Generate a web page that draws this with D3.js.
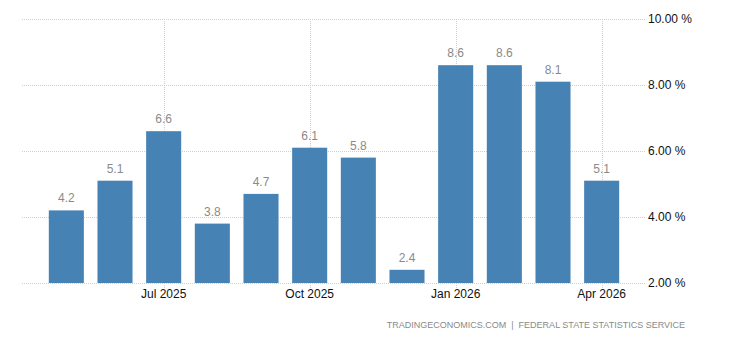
<!DOCTYPE html>
<html>
<head>
<meta charset="utf-8">
<script src="https://cdn.jsdelivr.net/npm/d3@7"></script>
<style>
  body { margin: 0; background: #fff; }
  svg text { font-family: Arial, "Liberation Sans", sans-serif; }
</style>
</head>
<body>
<svg class="chart" width="730" height="340"></svg>
<script>
const months = ["May 2025", "Jun 2025", "Jul 2025", "Aug 2025", "Sep 2025", "Oct 2025",
  "Nov 2025", "Dec 2025", "Jan 2026", "Feb 2026", "Mar 2026", "Apr 2026"];
const values = [4.2, 5.1, 6.6, 3.8, 4.7, 6.1, 5.8, 2.4, 8.6, 8.6, 8.1, 5.1];
const tickMonths = ["Jul 2025", "Oct 2025", "Jan 2026", "Apr 2026"];
const yTicks = [2, 4, 6, 8, 10];
const sourceText = "TRADINGECONOMICS.COM  |  FEDERAL STATE STATISTICS SERVICE";

const svg = d3.select(".chart");
const gridLeft = 22, gridRight = 645;

const x = d3.scaleBand()
  .domain(months)
  .range([42, 626])
  .paddingInner(0.28)
  .paddingOuter(0.14);

const y = d3.scaleLinear().domain([2, 10]).range([283, 19]);

// horizontal grid
svg.append("g")
  .selectAll("line")
  .data(yTicks)
  .enter()
  .append("line")
  .attr("x1", gridLeft)
  .attr("x2", gridRight)
  .attr("y1", (d) => Math.round(y(d)) + 0.5)
  .attr("y2", (d) => Math.round(y(d)) + 0.5)
  .attr("stroke", "#cfcfcf")
  .attr("stroke-dasharray", "1,1");

// vertical grid at labelled months
svg.append("g")
  .selectAll("line")
  .data(tickMonths)
  .enter()
  .append("line")
  .attr("x1", (d) => Math.round(x(d) + x.bandwidth() / 2) + 0.5)
  .attr("x2", (d) => Math.round(x(d) + x.bandwidth() / 2) + 0.5)
  .attr("y1", y(10))
  .attr("y2", y(2) + 5)
  .attr("stroke", "#cfcfcf")
  .attr("stroke-dasharray", "1,1");

// bars
svg.append("g")
  .selectAll("rect")
  .data(values)
  .enter()
  .append("rect")
  .attr("x", (d, i) => x(months[i]))
  .attr("y", (d) => y(d))
  .attr("width", x.bandwidth())
  .attr("height", (d) => y(2) - y(d))
  .attr("fill", "#4682b4");

// value labels
svg.append("g")
  .selectAll("text")
  .data(values)
  .enter()
  .append("text")
  .attr("x", (d, i) => x(months[i]) + x.bandwidth() / 2)
  .attr("y", (d) => y(d) - 8)
  .attr("text-anchor", "middle")
  .style("font-size", "12px")
  .attr("fill", "#8a8a8a")
  .text((d) => d.toFixed(1));

// y axis labels on the right
const yAxis = d3.axisRight(y)
  .tickValues(yTicks)
  .tickSize(0)
  .tickPadding(0)
  .tickFormat((d) => d3.format(".2f")(d) + " %");

svg.append("g")
  .attr("class", "y-axis")
  .attr("transform", `translate(648,0)`)
  .call(yAxis)
  .call((g) => g.select(".domain").remove())
  .selectAll("text")
  .style("font-size", "12px")
  .attr("fill", "#111");

// x axis labels
const xAxis = d3.axisBottom(x)
  .tickValues(tickMonths)
  .tickSize(0)
  .tickPadding(6);

svg.append("g")
  .attr("class", "x-axis")
  .attr("transform", `translate(0,${y(2)})`)
  .call(xAxis)
  .call((g) => g.select(".domain").remove())
  .selectAll("text")
  .style("font-size", "12px")
  .attr("fill", "#111");

// source
svg.append("text")
  .attr("x", 685)
  .attr("y", 328)
  .attr("text-anchor", "end")
  .style("font-size", "9px")
  .style("white-space", "pre")
  .attr("fill", "#8a8a8a")
  .text(sourceText);
</script>
</body>
</html>
